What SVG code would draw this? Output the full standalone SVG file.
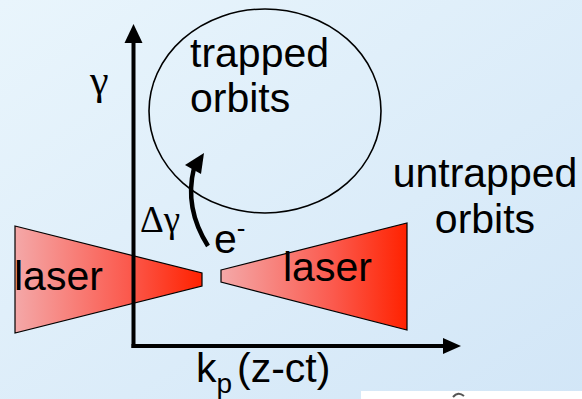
<svg xmlns="http://www.w3.org/2000/svg" width="582" height="399" viewBox="0 0 582 399">
<defs>
<linearGradient id="bg" x1="0" y1="0" x2="1" y2="1">
<stop offset="0" stop-color="#e9f5fc"/>
<stop offset="1" stop-color="#d2e6f7"/>
</linearGradient>
<linearGradient id="laserGrad" x1="0" y1="0" x2="1" y2="0">
<stop offset="0" stop-color="#f4a8a8"/>
<stop offset="0.6" stop-color="#fb5a4e"/>
<stop offset="1" stop-color="#ff2200"/>
</linearGradient>
<style>
.lbl{font-family:"Liberation Sans",Arial,sans-serif;font-size:41px;fill:#000}
.greek{font-family:"Liberation Serif","Times New Roman",serif;fill:#000}
.laser{fill:url(#laserGrad);stroke:#000;stroke-width:1.2}
.axis{stroke:#000;stroke-width:4;fill:none}
</style>
</defs>
<rect x="0" y="0" width="582" height="399" fill="url(#bg)"/>
<rect x="361" y="391" width="221" height="8" fill="#ffffff"/>
<path d="M453,397 Q458,391 464,396" stroke="#555" stroke-width="2" fill="none"/>

<g id="laser-left">
<polygon class="laser" points="15,226 202,273 202,286 15,333"/>
<text class="lbl" x="14" y="290">laser</text>
</g>
<g id="laser-right">
<polygon class="laser" points="221,270 407,223 407,330 221,282"/>
<text class="lbl" x="283" y="281">laser</text>
</g>

<g id="connectors">
<line class="axis" x1="133.5" y1="348" x2="133.5" y2="40"/>
<polygon points="124.5,43 142.5,43 133.5,24" fill="#000"/>
<line class="axis" x1="131.5" y1="346" x2="446" y2="346"/>
<polygon points="443,338 443,354 461,346" fill="#000"/>
<path d="M208,246 Q184,208 194,168" stroke="#000" stroke-width="4.5" fill="none"/>
<polygon points="204,153 185,165 201,174" fill="#000"/>
</g>

<g id="trapped">
<ellipse cx="265" cy="111" rx="116" ry="102" fill="none" stroke="#000" stroke-width="1.6"/>
<text class="lbl" x="190" y="67">trapped</text>
<text class="lbl" x="190" y="112">orbits</text>
</g>

<g id="untrapped">
<text class="lbl" x="485" y="187" text-anchor="middle">untrapped</text>
<text class="lbl" x="485" y="233" text-anchor="middle">orbits</text>
</g>

<g id="electron">
<text class="lbl" x="214" y="253">e<tspan font-size="26" dy="-16">-</tspan></text>
</g>

<g id="labels">
<text class="greek" x="90" y="94" font-size="42">γ</text>
<text class="greek" x="140" y="232" font-size="37">Δγ</text>
<text class="lbl" x="196" y="382">k<tspan font-size="28" dy="11">p</tspan><tspan dy="-11" x="237">(z-ct)</tspan></text>
</g>
</svg>
